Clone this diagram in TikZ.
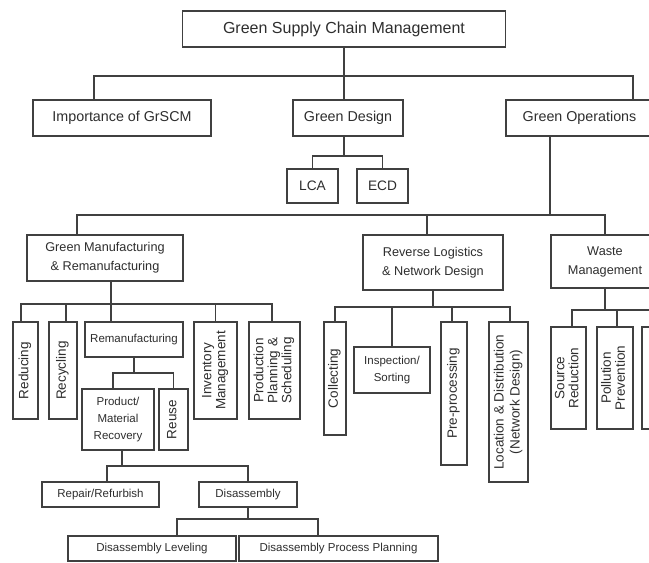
\documentclass[tikz,border=0pt]{standalone}
\usepackage{fontspec}
\setmainfont{Liberation Sans}
\usepackage{graphicx}
\definecolor{linegray}{HTML}{404040}
\definecolor{textgray}{HTML}{2E2E2E}
\newcommand{\vlabel}[1]{\rotatebox{90}{\begin{tabular}{@{}c@{}}#1\end{tabular}}}

\begin{document}
\begin{tikzpicture}[
    x=1pt, y=-1pt,
    box/.style={rectangle, draw=linegray, line width=1.3pt, text=textgray, inner sep=0pt, align=center, font=\fontsize{11.5}{17}\selectfont},
    rootbox/.style={box, font=\fontsize{16}{19}\selectfont},
    mainbox/.style={box, font=\fontsize{14.3}{17}\selectfont},
    subbox/.style={box, font=\fontsize{12.7}{19}\selectfont},
    vbox/.style={box, font=\fontsize{13.5}{14}\selectfont},
    link/.style={draw=linegray, line width=1.3pt}
  ]
    \fill[white] (0,0) rectangle (649,563);
    \useasboundingbox (0,0) rectangle (649,563);
    \clip (0,0) rectangle (649,563);
    % bus lines
    \coordinate (busA) at (0,76);
    \coordinate (busB) at (0,156);
    \coordinate (busC) at (0,215);
    \coordinate (busD) at (0,304);
    \coordinate (busE) at (0,373);
    \coordinate (busF) at (0,466);
    \coordinate (busG) at (0,519);
    \coordinate (busH) at (0,307);
    \coordinate (busI) at (0,310);
    % top levels
    \node[rootbox, minimum width=323pt, minimum height=36pt] (gscm) at (344,29) {Green Supply Chain Management};
    \node[mainbox, minimum width=178pt, minimum height=36pt] (imp) at (122,118) {Importance of GrSCM};
    \node[mainbox, minimum width=110pt, minimum height=36pt] (gd) at (348,118) {Green Design};
    \node[mainbox, minimum width=147pt, minimum height=36pt] (go) at (579.5,118) {Green Operations};
    \node[box, font=\fontsize{13.7}{16}\selectfont, minimum width=51pt, minimum height=34pt] (lca) at (312.5,186) {LCA};
    \node[box, font=\fontsize{13.7}{16}\selectfont, minimum width=51pt, minimum height=34pt] (ecd) at (382.5,186) {ECD};
    \node[subbox, minimum width=156pt, minimum height=46pt] (gmr) at (105,258) {Green Manufacturing\\\& Remanufacturing};
    \node[subbox, minimum width=140pt, minimum height=55pt] (rl) at (433,262.5) {Reverse Logistics\\\& Network Design};
    \node[subbox, minimum width=108pt, minimum height=53pt] (wm) at (605,261.5) {Waste\\Management};
    % manufacturing branch
    \node[vbox, minimum width=25pt, minimum height=97pt] (red) at (25.5,370.5) {\vlabel{Reducing}};
    \node[vbox, minimum width=28pt, minimum height=97pt] (rec) at (63,370.5) {\vlabel{Recycling}};
    \node[box, minimum width=98pt, minimum height=35pt] (reman) at (134,339.5) {Remanufacturing};
    \node[vbox, minimum width=43pt, minimum height=97pt] (inv) at (215.5,370.5) {\vlabel{Inventory\\Management}};
    \node[vbox, minimum width=51pt, minimum height=97pt] (pps) at (274.5,370.5) {\vlabel{Production\\Planning \&\\Scheduling}};
    \node[box, minimum width=72pt, minimum height=61pt] (pmr) at (118,419.5) {Product/\\Material\\Recovery};
    \node[vbox, minimum width=29pt, minimum height=61pt] (reuse) at (173.5,419.5) {\vlabel{Reuse}};
    \node[box, minimum width=117pt, minimum height=25pt] (rr) at (100.5,494.5) {Repair/Refurbish};
    \node[box, minimum width=98pt, minimum height=25pt] (dis) at (248,494.5) {Disassembly};
    \node[box, minimum width=168pt, minimum height=25pt] (dl) at (152,548.5) {Disassembly Leveling};
    \node[box, minimum width=199pt, minimum height=25pt] (dpp) at (338.5,548.5) {Disassembly Process Planning};
    % reverse logistics branch
    \node[vbox, minimum width=22pt, minimum height=113pt] (col) at (335,378.5) {\vlabel{Collecting}};
    \node[box, minimum width=76pt, minimum height=46pt] (ins) at (392,370) {Inspection/\\Sorting};
    \node[vbox, minimum width=26pt, minimum height=143pt] (pre) at (454,393.5) {\vlabel{Pre-processing}};
    \node[vbox, font=\fontsize{13.5}{16}\selectfont, minimum width=39pt, minimum height=160pt] (loc) at (508.5,402) {\vlabel{Location \& Distribution\\(Network Design)}};
    % waste branch
    \node[vbox, minimum width=35pt, minimum height=102pt] (sr) at (568.5,378) {\vlabel{Source\\Reduction}};
    \node[vbox, minimum width=36pt, minimum height=102pt] (pp) at (615,378) {\vlabel{Pollution\\Prevention}};
    \node[vbox, minimum width=36pt, minimum height=102pt] (disp) at (660,378) {};
    % connectors
    \draw[link] (gscm.south) -- (gscm.south |- gd.north);
    \draw[link] (gscm.south) |- ([xshift=-28pt]imp.north |- busA) -- ([xshift=-28pt]imp.north);
    \draw[link] (gscm.south) |- ([xshift=53.5pt]go.north |- busA) -- ([xshift=53.5pt]go.north);
    \draw[link] ([xshift=-4pt]gd.south) |- (lca.north |- busB) -- (lca.north);
    \draw[link] ([xshift=-4pt]gd.south) |- (ecd.north |- busB) -- (ecd.north);
    \draw[link] ([xshift=-29.5pt]go.south) |- ([xshift=-28pt]gmr.north |- busC) -- ([xshift=-28pt]gmr.north);
    \draw[link] ([xshift=-29.5pt]go.south) |- ([xshift=-6pt]rl.north |- busC) -- ([xshift=-6pt]rl.north);
    \draw[link] ([xshift=-29.5pt]go.south) |- (wm.north |- busC) -- (wm.north);
    \draw[link] ([xshift=6pt]gmr.south) |- ([xshift=-4.5pt]red.north |- busD) -- ([xshift=-4.5pt]red.north);
    \draw[link] ([xshift=6pt]gmr.south) |- ([xshift=3pt]rec.north |- busD) -- ([xshift=3pt]rec.north);
    \draw[link] ([xshift=6pt]gmr.south) -- ([xshift=-23pt]reman.north);
    \draw[link] ([xshift=6pt]gmr.south) |- (inv.north |- busD) -- (inv.north);
    \draw[link] ([xshift=6pt]gmr.south) |- ([xshift=-2.5pt]pps.north |- busD) -- ([xshift=-2.5pt]pps.north);
    \draw[link] (reman.south) |- ([xshift=-5pt]pmr.north |- busE) -- ([xshift=-5pt]pmr.north);
    \draw[link] (reman.south) |- (reuse.north |- busE) -- (reuse.north);
    \draw[link] ([xshift=4pt]pmr.south) |- ([xshift=6.5pt]rr.north |- busF) -- ([xshift=6.5pt]rr.north);
    \draw[link] ([xshift=4pt]pmr.south) |- (dis.north |- busF) -- (dis.north);
    \draw[link] (dis.south) |- ([xshift=25pt]dl.north |- busG) -- ([xshift=25pt]dl.north);
    \draw[link] (dis.south) |- ([xshift=-20.5pt]dpp.north |- busG) -- ([xshift=-20.5pt]dpp.north);
    \draw[link] (rl.south) |- (col.north |- busH) -- (col.north);
    \draw[link] (rl.south) |- (ins.north |- busH) -- (ins.north);
    \draw[link] (rl.south) |- ([xshift=-2pt]pre.north |- busH) -- ([xshift=-2pt]pre.north);
    \draw[link] (rl.south) |- ([xshift=1.5pt]loc.north |- busH) -- ([xshift=1.5pt]loc.north);
    \draw[link] (wm.south) |- ([xshift=3.5pt]sr.north |- busI) -- ([xshift=3.5pt]sr.north);
    \draw[link] (wm.south) |- ([xshift=2pt]pp.north |- busI) -- ([xshift=2pt]pp.north);
    \draw[link] (wm.south) |- (disp.north |- busI) -- (disp.north);
  \end{tikzpicture}
\end{document}
